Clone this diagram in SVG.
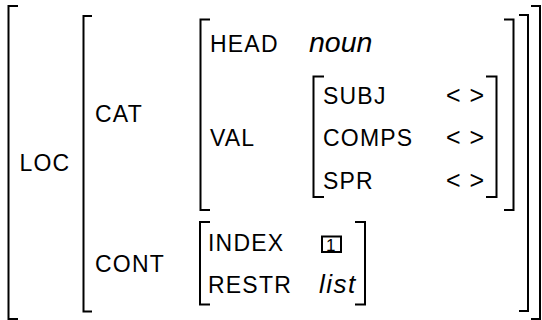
<svg xmlns="http://www.w3.org/2000/svg" width="542" height="320" viewBox="0 0 542 320">
<style>
.br{fill:none;stroke:#000;stroke-width:2;stroke-linejoin:miter;stroke-linecap:butt}
.t{font-family:"Liberation Sans",Arial,sans-serif;font-size:23px;letter-spacing:1.2px;fill:#000}
.a{font-family:"Liberation Sans",Arial,sans-serif;font-size:25px;letter-spacing:1px;fill:#000}
.i{font-family:"Liberation Sans",Arial,sans-serif;font-style:italic;fill:#000}
</style>
<rect width="542" height="320" fill="#fff"/>
<g id="loc">
<path class="br" d="M18,6 H8.5 V319 H18"/>
<path class="br" d="M531,6 H540 V319 H531"/>
<text class="t" x="19.5" y="171">LOC</text>
</g>
<g id="loc-value">
<path class="br" d="M92,16 H83.5 V311.5 H92"/>
<path class="br" d="M519,15 H528 V311 H519"/>
<text class="t" x="95" y="122">CAT</text>
<text class="t" x="95" y="272">CONT</text>
</g>
<g id="cat-value">
<path class="br" d="M210,19.5 H200.5 V210 H210"/>
<path class="br" d="M504,19.5 H513.5 V210 H504"/>
<text class="t" x="210" y="52">HEAD</text>
<text class="i" x="309" y="52" font-size="28.5">noun</text>
<text class="t" x="210" y="146">VAL</text>
</g>
<g id="val-value">
<path class="br" d="M324,76.5 H313.5 V197 H324"/>
<path class="br" d="M486,76.5 H496.5 V197 H486"/>
<text class="t" x="323" y="103.5">SUBJ</text>
<text class="a" x="446" y="103.5">&lt; &gt;</text>
<text class="t" x="323" y="146">COMPS</text>
<text class="a" x="446" y="146">&lt; &gt;</text>
<text class="t" x="323" y="188.5">SPR</text>
<text class="a" x="446" y="188.5">&lt; &gt;</text>
</g>
<g id="cont-value">
<path class="br" d="M210,222 H200 V304.5 H210"/>
<path class="br" d="M355,222 H365 V304.5 H355"/>
<text class="t" x="208" y="251">INDEX</text>
<rect x="322" y="236.5" width="19" height="15.5" fill="none" stroke="#000" stroke-width="2"/>
<text x="326" y="250.5" font-family="'Liberation Sans',Arial,sans-serif" font-size="17" fill="#000">1</text>
<text class="t" x="208" y="292.5">RESTR</text>
<text class="i" x="319" y="292.5" font-size="26" letter-spacing="1.5">list</text>
</g>
</svg>
